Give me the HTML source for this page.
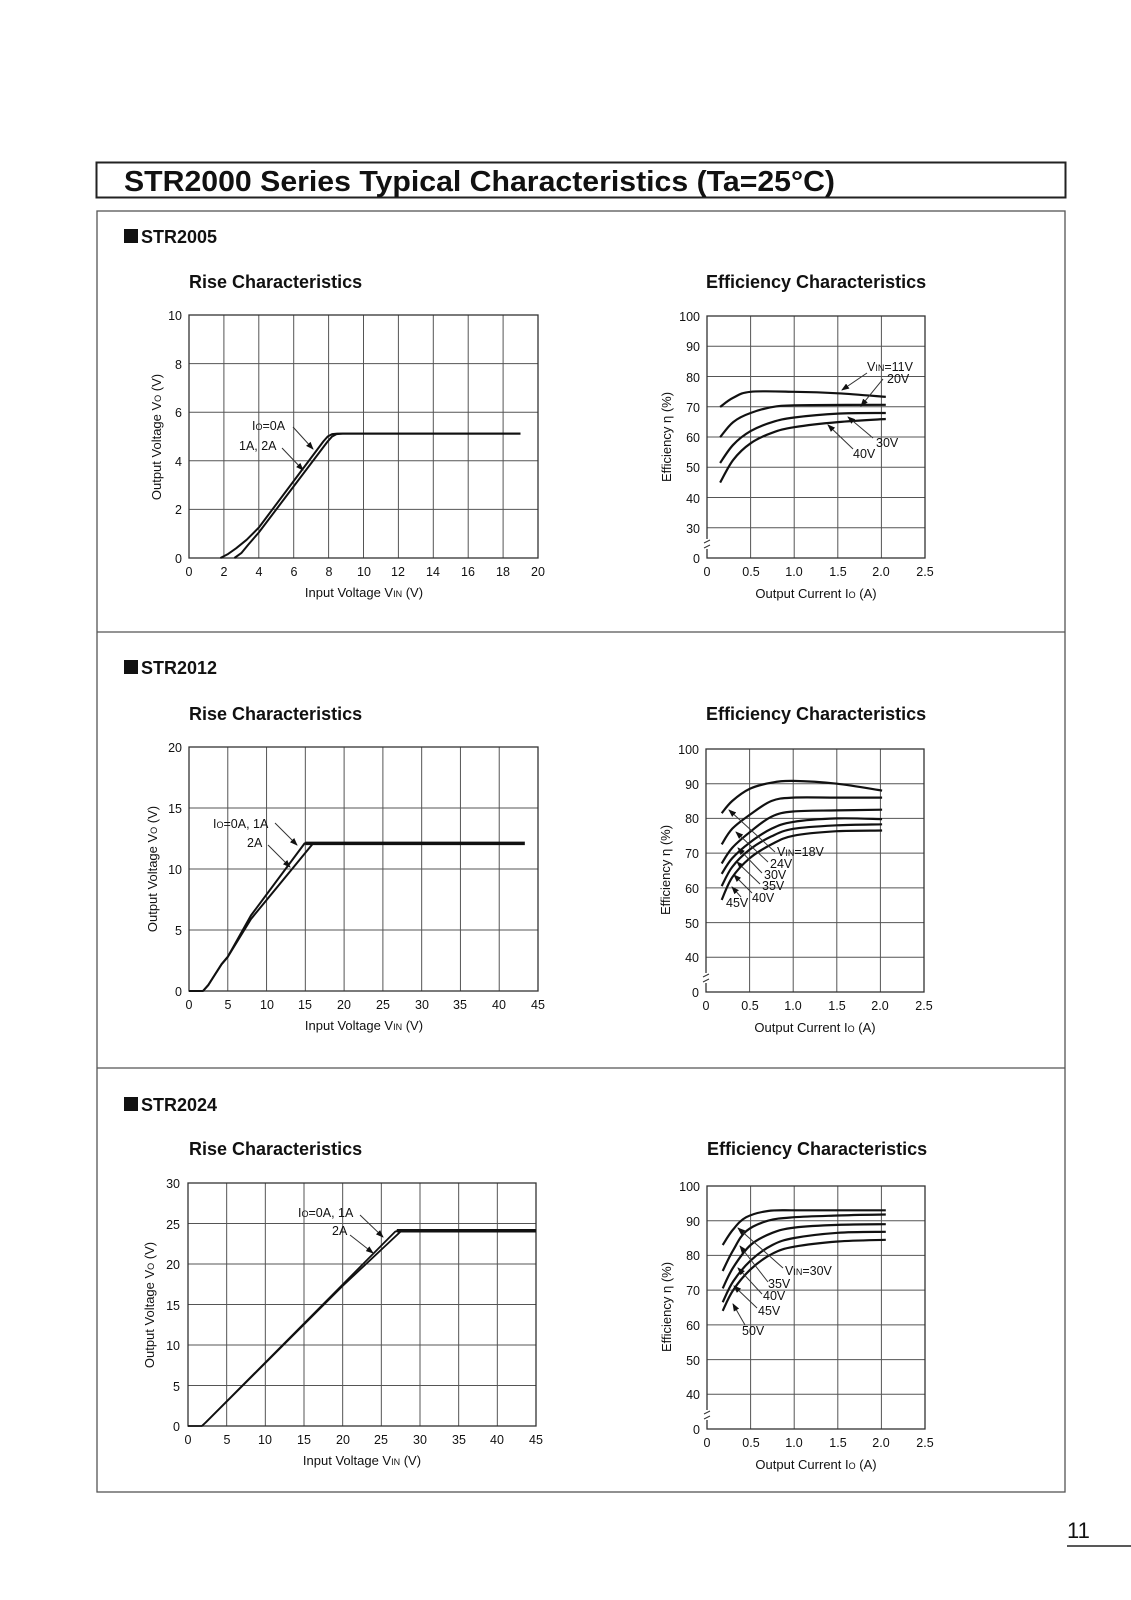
<!DOCTYPE html>
<html><head><meta charset="utf-8">
<style>
html,body{margin:0;padding:0;background:#fff;}
svg{display:block;font-family:"Liberation Sans",Arial,sans-serif;}
.t{font-size:13px;fill:#111;}
.tk{font-size:12.5px;fill:#111;}
.lb{font-size:12.5px;fill:#111;}
.h2{font-size:18px;font-weight:bold;fill:#111;}
</style></head>
<body>
<svg id="s" width="1131" height="1600" viewBox="0 0 1131 1600" xmlns="http://www.w3.org/2000/svg">
<defs>
<marker id="ar" markerWidth="8" markerHeight="6" refX="7" refY="3" orient="auto" markerUnits="userSpaceOnUse">
<path d="M0,0 L8,3 L0,6 z" fill="#111"/></marker>
</defs>
<rect x="96.5" y="162.5" width="969" height="35" fill="none" stroke="#222" stroke-width="2"/>
<text x="124" y="191" font-size="29" font-weight="bold" fill="#111" textLength="711" lengthAdjust="spacingAndGlyphs">STR2000 Series Typical Characteristics (Ta=25°C)</text>
<rect x="97" y="211" width="968" height="1281" fill="none" stroke="#555" stroke-width="1.3"/>
<line x1="97" y1="632" x2="1065" y2="632" stroke="#555" stroke-width="1.3"/>
<line x1="97" y1="1068" x2="1065" y2="1068" stroke="#555" stroke-width="1.3"/>
<text x="1067" y="1538" font-size="22" fill="#111">11</text>
<line x1="1067" y1="1546" x2="1131" y2="1546" stroke="#222" stroke-width="1.5"/>

<rect x="124" y="229" width="14" height="14" fill="#111"/><text x="141" y="243" class="h2">STR2005</text>
<rect x="124" y="660" width="14" height="14" fill="#111"/><text x="141" y="674" class="h2">STR2012</text>
<rect x="124" y="1097" width="14" height="14" fill="#111"/><text x="141" y="1111" class="h2">STR2024</text>

<text x="189" y="288" class="h2">Rise Characteristics</text>
<text x="706" y="288" class="h2">Efficiency Characteristics</text>
<text x="189" y="720" class="h2">Rise Characteristics</text>
<text x="706" y="720" class="h2">Efficiency Characteristics</text>
<text x="189" y="1155" class="h2">Rise Characteristics</text>
<text x="707" y="1155" class="h2">Efficiency Characteristics</text>

<g id="g"></g>

<g class="tk" text-anchor="end">
<text x="182" y="563">0</text><text x="182" y="514">2</text><text x="182" y="466">4</text><text x="182" y="417">6</text><text x="182" y="369">8</text><text x="182" y="320">10</text>
</g>
<g class="tk" text-anchor="middle">
<text x="189" y="576">0</text><text x="224" y="576">2</text><text x="259" y="576">4</text><text x="294" y="576">6</text><text x="329" y="576">8</text><text x="364" y="576">10</text><text x="398" y="576">12</text><text x="433" y="576">14</text><text x="468" y="576">16</text><text x="503" y="576">18</text><text x="538" y="576">20</text>
</g>
<text x="364" y="597" class="t" text-anchor="middle">Input Voltage V<tspan font-size="9">IN</tspan> (V)</text>
<text transform="translate(161,437) rotate(-90)" class="t" text-anchor="middle">Output Voltage V<tspan font-size="9">O</tspan> (V)</text>
<text x="252" y="430" class="lb">I<tspan font-size="9">O</tspan>=0A</text>
<text x="239" y="450" class="lb">1A, 2A</text>

<g class="tk" text-anchor="end">
<text x="700" y="321">100</text><text x="700" y="351">90</text><text x="700" y="382">80</text><text x="700" y="412">70</text><text x="700" y="442">60</text><text x="700" y="472">50</text><text x="700" y="503">40</text><text x="700" y="533">30</text><text x="700" y="563">0</text>
</g>
<g class="tk" text-anchor="middle">
<text x="707" y="576">0</text><text x="751" y="576">0.5</text><text x="794" y="576">1.0</text><text x="838" y="576">1.5</text><text x="881" y="576">2.0</text><text x="925" y="576">2.5</text>
</g>
<text x="816" y="598" class="t" text-anchor="middle">Output Current I<tspan font-size="9">O</tspan> (A)</text>
<text transform="translate(671,437) rotate(-90)" class="t" text-anchor="middle">Efficiency η (%)</text>
<text x="867" y="371" class="lb">V<tspan font-size="9">IN</tspan>=11V</text>
<text x="887" y="383" class="lb">20V</text>
<text x="876" y="447" class="lb">30V</text>
<text x="853" y="458" class="lb">40V</text>

<g class="tk" text-anchor="end">
<text x="182" y="996">0</text><text x="182" y="935">5</text><text x="182" y="874">10</text><text x="182" y="813">15</text><text x="182" y="752">20</text>
</g>
<g class="tk" text-anchor="middle">
<text x="189" y="1009">0</text><text x="228" y="1009">5</text><text x="267" y="1009">10</text><text x="305" y="1009">15</text><text x="344" y="1009">20</text><text x="383" y="1009">25</text><text x="422" y="1009">30</text><text x="460" y="1009">35</text><text x="499" y="1009">40</text><text x="538" y="1009">45</text>
</g>
<text x="364" y="1030" class="t" text-anchor="middle">Input Voltage V<tspan font-size="9">IN</tspan> (V)</text>
<text transform="translate(157,869) rotate(-90)" class="t" text-anchor="middle">Output Voltage V<tspan font-size="9">O</tspan> (V)</text>
<text x="213" y="828" class="lb">I<tspan font-size="9">O</tspan>=0A, 1A</text>
<text x="247" y="847" class="lb">2A</text>

<g class="tk" text-anchor="end">
<text x="699" y="754">100</text><text x="699" y="789">90</text><text x="699" y="823">80</text><text x="699" y="858">70</text><text x="699" y="893">60</text><text x="699" y="928">50</text><text x="699" y="962">40</text><text x="699" y="997">0</text>
</g>
<g class="tk" text-anchor="middle">
<text x="706" y="1010">0</text><text x="750" y="1010">0.5</text><text x="793" y="1010">1.0</text><text x="837" y="1010">1.5</text><text x="880" y="1010">2.0</text><text x="924" y="1010">2.5</text>
</g>
<text x="815" y="1032" class="t" text-anchor="middle">Output Current I<tspan font-size="9">O</tspan> (A)</text>
<text transform="translate(670,870) rotate(-90)" class="t" text-anchor="middle">Efficiency η (%)</text>
<text x="777" y="856" class="lb">V<tspan font-size="9">IN</tspan>=18V</text>
<text x="770" y="868" class="lb">24V</text>
<text x="764" y="879" class="lb">30V</text>
<text x="762" y="890" class="lb">35V</text>
<text x="752" y="902" class="lb">40V</text>
<text x="726" y="907" class="lb">45V</text>

<g class="tk" text-anchor="end">
<text x="180" y="1431">0</text><text x="180" y="1391">5</text><text x="180" y="1350">10</text><text x="180" y="1310">15</text><text x="180" y="1269">20</text><text x="180" y="1229">25</text><text x="180" y="1188">30</text>
</g>
<g class="tk" text-anchor="middle">
<text x="188" y="1444">0</text><text x="227" y="1444">5</text><text x="265" y="1444">10</text><text x="304" y="1444">15</text><text x="343" y="1444">20</text><text x="381" y="1444">25</text><text x="420" y="1444">30</text><text x="459" y="1444">35</text><text x="497" y="1444">40</text><text x="536" y="1444">45</text>
</g>
<text x="362" y="1465" class="t" text-anchor="middle">Input Voltage V<tspan font-size="9">IN</tspan> (V)</text>
<text transform="translate(154,1305) rotate(-90)" class="t" text-anchor="middle">Output Voltage V<tspan font-size="9">O</tspan> (V)</text>
<text x="298" y="1217" class="lb">I<tspan font-size="9">O</tspan>=0A, 1A</text>
<text x="332" y="1235" class="lb">2A</text>

<g class="tk" text-anchor="end">
<text x="700" y="1191">100</text><text x="700" y="1226">90</text><text x="700" y="1260">80</text><text x="700" y="1295">70</text><text x="700" y="1330">60</text><text x="700" y="1365">50</text><text x="700" y="1399">40</text><text x="700" y="1434">0</text>
</g>
<g class="tk" text-anchor="middle">
<text x="707" y="1447">0</text><text x="751" y="1447">0.5</text><text x="794" y="1447">1.0</text><text x="838" y="1447">1.5</text><text x="881" y="1447">2.0</text><text x="925" y="1447">2.5</text>
</g>
<text x="816" y="1469" class="t" text-anchor="middle">Output Current I<tspan font-size="9">O</tspan> (A)</text>
<text transform="translate(671,1307) rotate(-90)" class="t" text-anchor="middle">Efficiency η (%)</text>
<text x="785" y="1275" class="lb">V<tspan font-size="9">IN</tspan>=30V</text>
<text x="768" y="1288" class="lb">35V</text>
<text x="763" y="1300" class="lb">40V</text>
<text x="758" y="1315" class="lb">45V</text>
<text x="742" y="1335" class="lb">50V</text>
</svg>
<script>
(function(){
var NS="http://www.w3.org/2000/svg",g=document.getElementById("g");
function el(n,a){var e=document.createElementNS(NS,n);for(var k in a)e.setAttribute(k,a[k]);g.appendChild(e);return e;}
function line(x1,y1,x2,y2,w,c,m){var a={x1:x1,y1:y1,x2:x2,y2:y2,stroke:c||"#444","stroke-width":w||1};if(m)a["marker-end"]="url(#ar)";el("line",a);}
function frame(x0,x1,y0,y1,nx,ny){
 for(var i=1;i<nx;i++){var x=x0+(x1-x0)*i/nx;line(x,y0,x,y1,1,"#555");}
 for(var j=1;j<ny;j++){var y=y0+(y1-y0)*j/ny;line(x0,y,x1,y,1,"#555");}
 el("rect",{x:x0,y:y0,width:x1-x0,height:y1-y0,fill:"none",stroke:"#333","stroke-width":1.3});
}
function smooth(pts){var d="M"+pts[0][0].toFixed(1)+","+pts[0][1].toFixed(1);
 for(var i=0;i<pts.length-1;i++){var p0=pts[i-1]||pts[i],p1=pts[i],p2=pts[i+1],p3=pts[i+2]||p2;
  var c1=[p1[0]+(p2[0]-p0[0])/6,p1[1]+(p2[1]-p0[1])/6],c2=[p2[0]-(p3[0]-p1[0])/6,p2[1]-(p3[1]-p1[1])/6];
  d+=" C"+c1[0].toFixed(1)+","+c1[1].toFixed(1)+" "+c2[0].toFixed(1)+","+c2[1].toFixed(1)+" "+p2[0].toFixed(1)+","+p2[1].toFixed(1);}
 return d;}
function curve(pts,fx,fy,w){el("path",{d:smooth(pts.map(function(p){return [fx(p[0]),fy(p[1])];})),fill:"none",stroke:"#111","stroke-width":w||2.2,"stroke-linejoin":"round"});}
function poly(pts,fx,fy,w){el("polyline",{points:pts.map(function(p){return fx(p[0]).toFixed(1)+","+fy(p[1]).toFixed(1);}).join(" "),fill:"none",stroke:"#111","stroke-width":w||2,"stroke-linejoin":"round"});}
function brk(x,y){el("rect",{x:x-3,y:y-6,width:6,height:10,fill:"#fff"});line(x-3,y-2,x+3,y-5,1,"#333");line(x-3,y+3,x+3,y,1,"#333");}

frame(189,538,315,558,10,5);
var X1=function(v){return 189+v*17.45},Y1=function(v){return 558-v*24.3};
poly([[1.8,0],[2.2,0.15],[2.7,0.4],[3.3,0.75],[4,1.25],[7.7,4.8],[7.95,5.0],[8.2,5.1],[8.5,5.12],[19,5.12]],X1,Y1);
poly([[2.6,0],[3.0,0.2],[3.4,0.55],[4,1.05],[7.95,4.8],[8.2,5.0],[8.45,5.1],[8.8,5.12],[19,5.12]],X1,Y1);
line(293,427,313,449,1,"#333",1);line(282,448,303,470,1,"#333",1);

frame(707,925,316,558,5,8);
var X2=function(i){return 707+i*87.2},Y2=function(e){return 316+(100-e)*3.03};
curve([[0.15,70],[0.3,73],[0.5,75],[1,75],[1.5,74.5],[2.05,73.3]],X2,Y2);
curve([[0.15,60],[0.3,65],[0.5,68],[0.8,70.2],[1.2,70.6],[2.05,70.7]],X2,Y2);
curve([[0.15,51.5],[0.3,57.5],[0.5,62],[0.75,65],[1,66.5],[1.5,67.8],[2.05,68]],X2,Y2);
curve([[0.15,45],[0.3,52.5],[0.5,58],[0.75,61.5],[1,63.3],[1.5,65],[2.05,66]],X2,Y2);
brk(707,545);
line(867,373,842,390,1,"#333",1);line(883,379,861,406,1,"#333",1);
line(873,438,848,417,1,"#333",1);line(853,449,828,425,1,"#333",1);

frame(189,538,747,991,9,4);
var X3=function(v){return 189+v*7.756},Y3=function(v){return 991-v*12.2};
poly([[0,0],[1.8,0],[2.5,0.5],[3.3,1.3],[4.2,2.2],[5,2.8],[8,6.2],[14.9,12.1],[16,12.1]],X3,Y3);
poly([[1.8,0],[2.5,0.5],[3.3,1.3],[4.2,2.2],[5,2.8],[8,5.9],[16,12.1]],X3,Y3);
el("line",{x1:X3(15),y1:Y3(12.1),x2:X3(43.3),y2:Y3(12.1),stroke:"#111","stroke-width":3.5});
line(275,823,297,845,1,"#333",1);line(268,845,290,867,1,"#333",1);

frame(706,924,749,992,5,7);
var X4=function(i){return 706+i*87.2},Y4=function(e){return 749+(100-e)*3.47};
curve([[0.18,81.5],[0.3,85],[0.5,88.5],[0.75,90.3],[1,90.8],[1.5,90],[2.02,88]],X4,Y4);
curve([[0.18,72.5],[0.3,77],[0.5,81],[0.75,85],[1,86],[1.5,86],[2.02,86]],X4,Y4);
curve([[0.18,67],[0.3,71.5],[0.5,76],[0.75,80.5],[1,82],[1.5,82.3],[2.02,82.5]],X4,Y4);
curve([[0.18,64],[0.3,68.5],[0.5,73],[0.75,77],[1,79],[1.5,80],[2.02,79.8]],X4,Y4);
curve([[0.18,60.5],[0.3,66],[0.5,71],[0.75,74.8],[1,77],[1.5,78],[2.02,78.3]],X4,Y4);
curve([[0.18,56.5],[0.3,63],[0.5,68.5],[0.75,72.5],[1,75],[1.5,76.3],[2.02,76.5]],X4,Y4);
brk(706,979);
line(775,852,729,810,1,"#333",1);line(768,862,736,832,1,"#333",1);line(762,873,738,848,1,"#333",1);
line(760,884,737,862,1,"#333",1);line(752,893,734,875,1,"#333",1);line(741,897,732,887,1,"#333",1);

frame(188,536,1183,1426,9,6);
var X5=function(v){return 188+v*7.733},Y5=function(v){return 1426-v*8.1};
poly([[0,0],[1.8,0],[2.3,0.45],[26.8,24.0],[27.1,24.1],[28,24.1]],X5,Y5,1.8);
poly([[1.8,0],[2.3,0.45],[20,17.3],[27.6,24.1]],X5,Y5,1.8);
el("line",{x1:X5(27),y1:Y5(24.1),x2:536,y2:Y5(24.1),stroke:"#111","stroke-width":3.5});
line(360,1215,383,1237,1,"#333",1);line(350,1235,373,1253,1,"#333",1);

frame(707,925,1186,1429,5,7);
var X6=function(i){return 707+i*87.2},Y6=function(e){return 1186+(100-e)*3.47};
curve([[0.18,83],[0.3,87.5],[0.45,91],[0.7,92.8],[1,93],[1.5,93],[2.05,93]],X6,Y6);
curve([[0.18,75.5],[0.3,81.5],[0.45,87],[0.7,90],[1,91],[1.5,91.5],[2.05,91.8]],X6,Y6);
curve([[0.18,70.5],[0.3,76.5],[0.5,83],[0.75,86.5],[1,88],[1.5,88.8],[2.05,89]],X6,Y6);
curve([[0.18,66.5],[0.3,72.5],[0.5,78.5],[0.75,83],[1,85],[1.5,86.5],[2.05,86.8]],X6,Y6);
curve([[0.18,64],[0.3,70],[0.5,76],[0.75,80.5],[1,82.5],[1.5,84],[2.05,84.5]],X6,Y6);
brk(707,1416);
line(783,1268,738,1228,1,"#333",1);line(768,1282,740,1246,1,"#333",1);line(762,1294,738,1268,1,"#333",1);
line(757,1308,734,1286,1,"#333",1);line(745,1325,733,1304,1,"#333",1);
})();
</script>
</body></html>
